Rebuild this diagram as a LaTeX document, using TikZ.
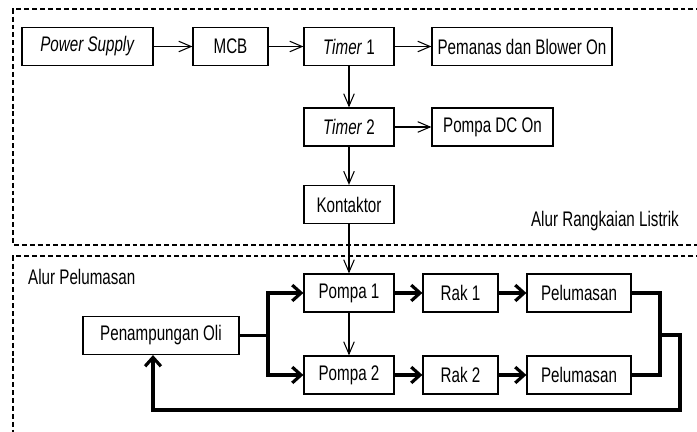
\documentclass[tikz,border=0pt]{standalone}
\usepackage{fontspec}
\setmainfont{Liberation Sans}[FakeStretch=0.72]
\usetikzlibrary{arrows.meta}

\tikzset{
    blok/.style={draw, line width=0.7pt, minimum height=0.76cm, inner sep=0pt,
        font=\fontsize{12}{14}\selectfont},
    tipis/.style={line width=0.6pt, -{Straight Barb[length=7pt,width=6pt]}},
    tebal/.style={line width=1.8pt, -{Straight Barb[length=5pt,width=9pt]}},
    garis/.style={line width=1.8pt},
    batas/.style={line width=0.6pt, dash pattern=on 2.8pt off 1.7pt},
    judul/.style={font=\fontsize{12}{14}\selectfont}
}

\begin{document}
\begin{tikzpicture}
        \useasboundingbox (0,0) rectangle (13.94,8.64);

        % Kotak putus-putus
        \draw[batas] (14.5,8.46) -- (0.26,8.46) -- (0.26,3.74) -- (14.5,3.74);
        \draw[batas] (14.5,3.52) -- (0.26,3.52) -- (0.26,-0.5);
        \node[judul, anchor=east] (listrik) at (13.7,4.22) {Alur Rangkaian Listrik};
        \node[judul, anchor=west] (pelumasan) at (0.44,3.1) {Alur Pelumasan};

        % Rangkaian listrik
        \node[blok, minimum width=2.62cm] (ps) at (1.75,7.71) {\textit{Power Supply}};
        \node[blok, minimum width=1.5cm] (mcb) at (4.61,7.71) {MCB};
        \node[blok, minimum width=1.8cm] (t1) at (6.98,7.71) {\textit{Timer} 1};
        \node[blok, minimum width=3.6cm] (pemanas) at (10.44,7.71) {Pemanas dan Blower On};
        \node[blok, minimum width=1.8cm] (t2) at (6.98,6.1) {\textit{Timer} 2};
        \node[blok, minimum width=2.42cm] (pompadc) at (9.85,6.1) {Pompa DC On};
        \node[blok, minimum width=1.8cm] (kontaktor) at (6.98,4.55) {Kontaktor};

        \draw[tipis] (ps) -- (mcb);
        \draw[tipis] (mcb) -- (t1);
        \draw[tipis] (t1) -- (pemanas);
        \draw[tipis] (t1) -- (t2);
        \draw[tipis] (t2) -- (pompadc);
        \draw[tipis] (t2) -- (kontaktor);

        % Alur pelumasan
        \node[blok, minimum width=3.12cm] (oli) at (3.22,1.93) {Penampungan Oli};
        \foreach \i/\y in {1/2.78, 2/1.14} {
            \node[blok, minimum width=1.8cm] (pompa\i) at (6.98,\y) {Pompa \i};
            \node[blok, minimum width=1.5cm] (rak\i) at (9.21,\y) {Rak \i};
            \node[blok, minimum width=2.08cm] (pel\i) at (11.58,\y) {Pelumasan};
            \draw[tebal] (pompa\i) -- (rak\i);
            \draw[tebal] (rak\i) -- (pel\i);
        }

        \draw[tipis] (kontaktor) -- (pompa1);
        \draw[tipis] (pompa1) -- (pompa2);

        % Cabang dan jalur balik
        \coordinate (cabang) at (5.36,1.93);
        \coordinate (kumpul) at (13.2,1.94);
        \coordinate (balik) at (13.6,0.44);
        \draw[tebal] (oli.east) -- (cabang) |- (pompa1.west);
        \draw[tebal] (cabang) |- (pompa2.west);
        \draw[garis] (pel1.east) -| (kumpul) |- (pel2.east);
        \draw[tebal] (kumpul) -- (kumpul -| balik) -- (balik) -| ([xshift=-0.16cm]oli.south);

    \end{tikzpicture}
\end{document}
